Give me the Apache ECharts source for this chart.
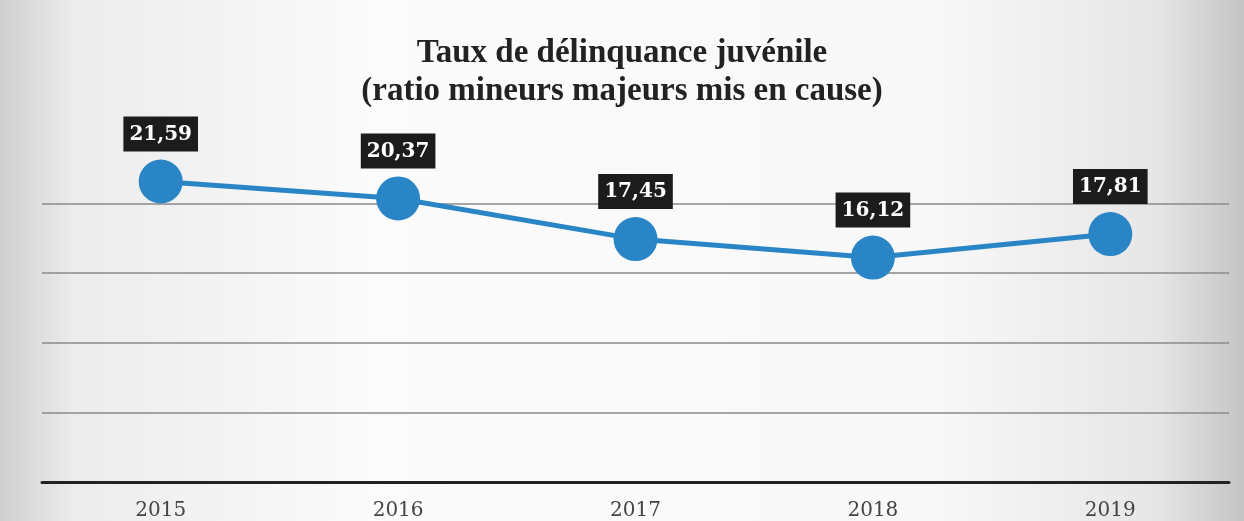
<!DOCTYPE html>
<html>
<head>
<meta charset="utf-8">
<script src="https://cdn.jsdelivr.net/npm/echarts@6/dist/echarts.min.js"></script>
<style>
  html, body { margin: 0; padding: 0; }
  #chart { width: 1244px; height: 521px; }
</style>
</head>
<body>
<div id="chart"></div>
<script>
// données
var annees = ["2015", "2016", "2017", "2018", "2019"];
var taux = [21.59, 20.37, 17.45, 16.12, 17.81];
var titre = "Taux de délinquance juvénile\n(ratio mineurs majeurs mis en cause)";

var myChart = echarts.init(document.getElementById("chart"), null, { renderer: "canvas" });

var option = {
  backgroundColor: {
    type: "linear", x: 0, y: 0, x2: 1, y2: 0,
    colorStops: [
      { offset: 0, color: "#cfcfcf" },
      { offset: 0.06, color: "#ececec" },
      { offset: 0.3, color: "#fbfbfb" },
      { offset: 0.75, color: "#f8f8f8" },
      { offset: 0.93, color: "#e6e6e6" },
      { offset: 1, color: "#c4c4c4" }
    ]
  },
  title: {
    text: titre,
    left: "center",
    top: 29,
    textStyle: {
      fontFamily: "Liberation Serif",
      fontWeight: "bold",
      fontSize: 33,
      lineHeight: 38,
      color: "#222"
    }
  },
  grid: { left: 42, right: 15, top: 134, bottom: 39 },
  xAxis: {
    type: "category",
    data: annees,
    axisLine: { lineStyle: { color: "#222", width: 3 } },
    axisTick: { show: false },
    axisLabel: {
      fontFamily: "DejaVu Serif",
      fontSize: 20,
      color: "#444",
      margin: 19
    }
  },
  yAxis: {
    type: "value",
    min: 0,
    max: 25,
    interval: 5,
    axisLabel: { show: false },
    axisLine: { show: false },
    axisTick: { show: false },
    splitLine: {
      showMinLine: false,
      showMaxLine: false,
      lineStyle: { color: "#8a8a8a", width: 1.5 }
    }
  },
  series: [
    {
      type: "line",
      data: taux,
      symbol: "circle",
      symbolSize: 44,
      lineStyle: { color: "#2a85c6", width: 5 },
      itemStyle: { color: "#2a85c6" },
      label: {
        show: true,
        position: "top",
        distance: 8,
        formatter: function (p) {
          return p.value.toFixed(2).replace(".", ",");
        },
        fontFamily: "DejaVu Serif",
        fontWeight: "bold",
        fontSize: 20,
        color: "#fff",
        backgroundColor: "#1c1c1c",
        padding: [8, 6, 7, 6]
      }
    }
  ]
};

myChart.setOption(option);
</script>
</body>
</html>
